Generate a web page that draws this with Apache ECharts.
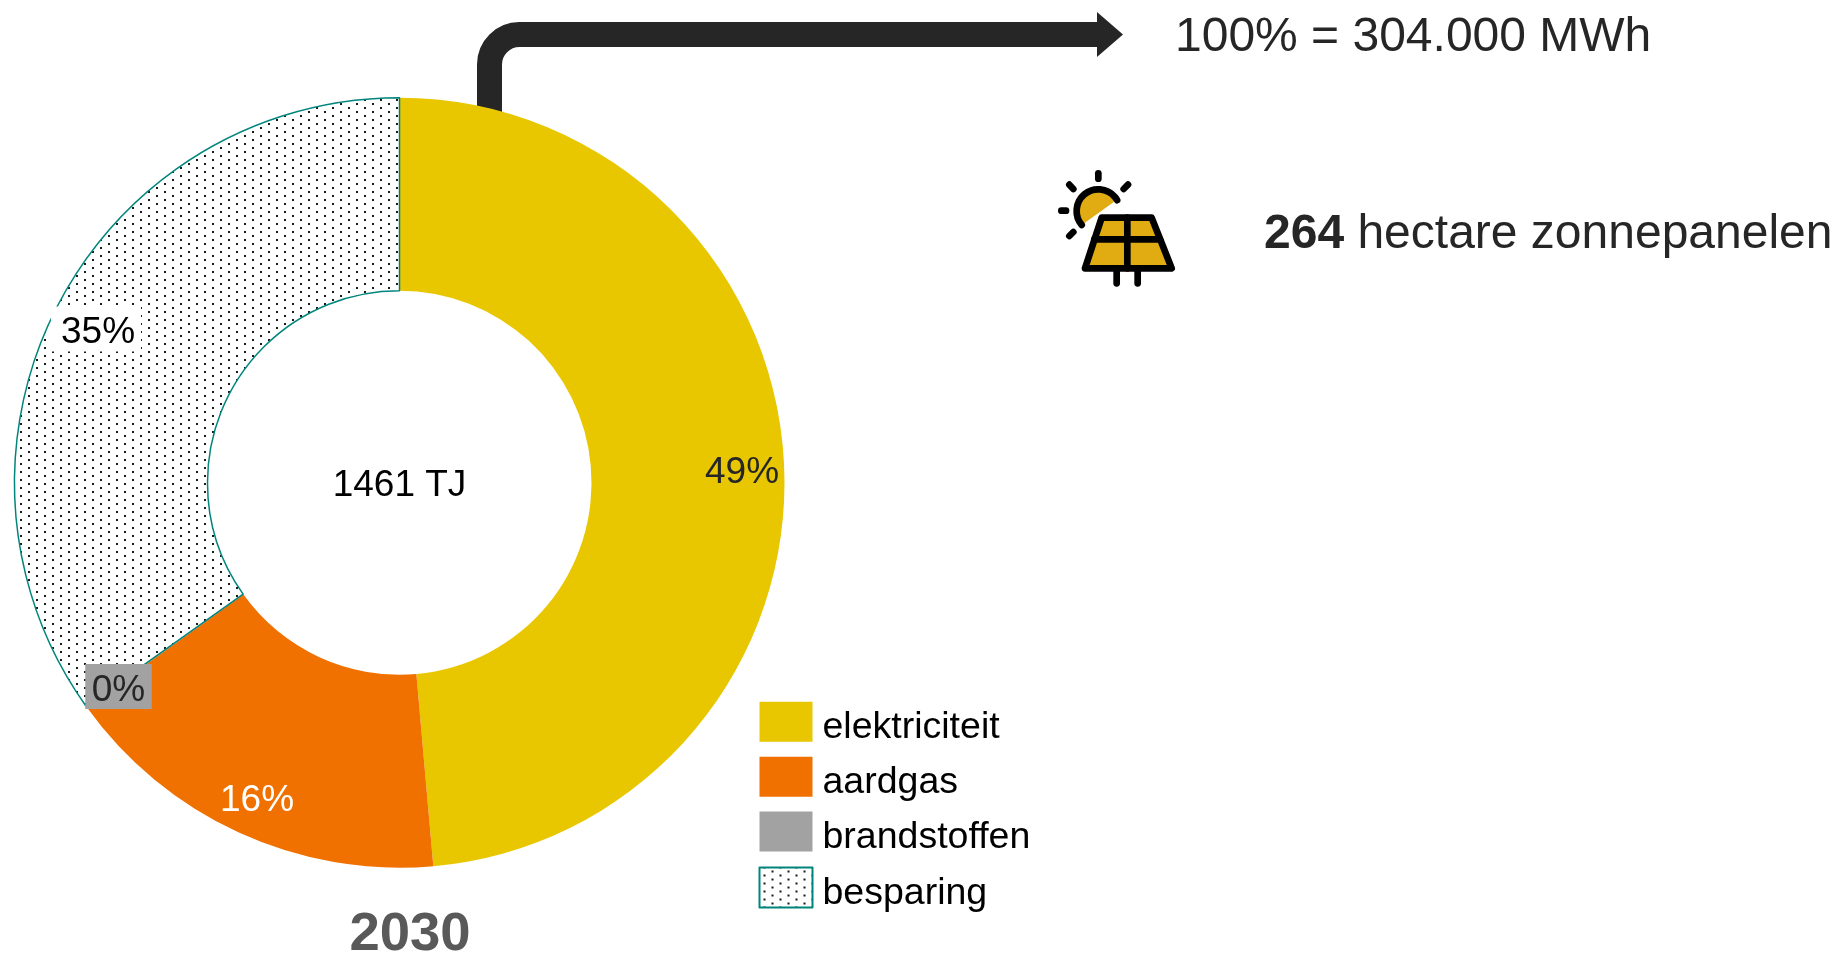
<!DOCTYPE html>
<html><head><meta charset="utf-8">
<style>html,body{margin:0;padding:0;background:#fff}#c{width:1837px;height:953px}</style>
<script src="https://cdn.jsdelivr.net/npm/echarts@6/dist/echarts.min.js"></script>
</head><body><div id="c"></div>
<script>
const categories = ['elektriciteit', 'aardgas', 'brandstoffen', 'besparing'];
const shares = [48.6, 16.5, 0.05, 34.85];
const shareLabels = ['49%', '16%', '0%', '35%'];
const sliceColors = ['#e9c700', '#f07000', '#a2a2a2', null];
const labelColors = ['#262626', '#ffffff', '#262626', '#000000'];
const labelBacks = ['transparent', 'transparent', '#a2a2a2', '#ffffff'];
const labelSpots = [[742, 472.5], [257, 800.5], [118.5, 686.5], [96, 329]];
const totalText = '1461 TJ';
const yearText = '2030';
const energyText = '100% = 304.000 MWh';
const panelBold = '264';
const panelText = ' hectare zonnepanelen';
const FONT = '"Liberation Sans", Arial, sans-serif';
const DARK = '#262626';

const dot = document.createElement('canvas');
dot.width = 16; dot.height = 8;
const g = dot.getContext('2d');
g.fillStyle = '#fff'; g.fillRect(0, 0, 16, 8);
g.fillStyle = '#1a1a1a';
g.fillRect(12, 3, 2, 2); g.fillRect(4, 7, 2, 1); g.fillRect(4, 0, 2, 1);

const labelPads = [[0, 2, 0, 2], [0, 2, 0, 2], [8, 6.5, 0, 6.5], [8, 6, 0, 10]];
const pieData = categories.map((name, i) => ({
  name, value: shares[i],
  itemStyle: sliceColors[i]
    ? { color: sliceColors[i], borderWidth: 0 }
    : { color: { image: dot, repeat: 'repeat' }, borderColor: '#00857c', borderWidth: 1.5 },
  label: {
    backgroundColor: labelBacks[i],
    rich: { t: { color: labelColors[i], fontFamily: FONT, fontSize: 37, padding: labelPads[i] } }
  }
}));

const ICON = { x: 1030, y: 150, k: 1 / 3 };
const ix = v => ICON.x + v * ICON.k;
const iy = v => ICON.y + v * ICON.k;
const iconStroke = { stroke: '#000', lineWidth: 6.7, lineCap: 'round', lineJoin: 'round', fill: 'none' };
const iconLine = (a, b, c, d) => ({ type: 'line', z: 5, shape: { x1: ix(a), y1: iy(b), x2: ix(c), y2: iy(d) }, style: iconStroke });
const poly = pts => pts.map(p => [ix(p[0]), iy(p[1])]);
const sunFill = [];
for (let t = 2.44; t <= 5.76; t += 0.1) sunFill.push([ix(205) + 21.7 * Math.cos(t), iy(183) + 21.7 * Math.sin(t)]);
const arrowStroke = { stroke: DARK, lineWidth: 25, fill: 'none' };

const chart = echarts.init(document.getElementById('c'));
chart.setOption({
  backgroundColor: '#fff',
  animation: false,
  textStyle: { fontFamily: FONT },
  legend: {
    orient: 'vertical', left: 758.5, top: 701.8, padding: 0,
    icon: 'rect', itemWidth: 53, itemHeight: 40, itemGap: 9.9,
    data: categories, selectedMode: false,
    formatter: '{t|{name}}',
    textStyle: { rich: { t: { fontFamily: FONT, fontSize: 37.5, color: '#000', padding: [12, 0, 0, 5] } } }
  },
  series: [{
    type: 'pie', center: [399.5, 482.7], radius: [192, 385],
    startAngle: 90, clockwise: true, avoidLabelOverlap: false, silent: true,
    data: pieData,
    labelLine: { show: false },
    label: {
      show: true, position: 'inside', fontFamily: FONT, fontSize: 37,
      formatter: p => '{t|' + shareLabels[p.dataIndex] + '}'
    },
    labelLayout: p => ({ x: labelSpots[p.dataIndex][0], y: labelSpots[p.dataIndex][1], align: 'center', verticalAlign: 'middle' })
  }],
  graphic: [
    { type: 'line', z: 0, shape: { x1: 489.5, y1: 63.5, x2: 489.5, y2: 130 }, style: arrowStroke },
    { type: 'arc', z: 0, shape: { cx: 519.5, cy: 64.5, r: 30, startAngle: Math.PI, endAngle: Math.PI * 1.5, clockwise: true }, style: arrowStroke },
    { type: 'line', z: 0, shape: { x1: 518.5, y1: 34.5, x2: 1098, y2: 34.5 }, style: arrowStroke },
    { type: 'polygon', z: 0, shape: { points: [[1097, 12], [1123, 34.5], [1097, 57]] }, style: { fill: DARK } },
    { type: 'text', z: 5, x: 1175, y: 38, style: { text: energyText, font: '48px ' + FONT, fill: DARK, verticalAlign: 'middle' } },
    { type: 'text', z: 5, x: 1264, y: 235, style: {
        text: '{b|' + panelBold + '}{n|' + panelText + '}', verticalAlign: 'middle',
        rich: {
          b: { fill: DARK, fontFamily: FONT, fontSize: 48, fontWeight: 'bold' },
          n: { fill: DARK, fontFamily: FONT, fontSize: 48 }
        } } },
    { type: 'text', z: 5, x: 399.5, y: 486, style: { text: totalText, font: '37px ' + FONT, fill: '#000', align: 'center', verticalAlign: 'middle' } },
    { type: 'text', z: 5, x: 410, y: 935, style: { text: yearText, font: 'bold 54.5px ' + FONT, fill: '#595959', align: 'center', verticalAlign: 'middle' } },
    { type: 'polygon', z: 4, shape: { points: sunFill }, style: { fill: '#e0ac12' } },
    { type: 'polygon', z: 4, shape: { points: poly([[215, 203], [365, 203], [425, 355], [165, 355]]) }, style: { fill: '#e0ac12' } },
    { type: 'arc', z: 5, shape: { cx: ix(205), cy: iy(183), r: 21.7, startAngle: 2.44, endAngle: 5.76, clockwise: true }, style: iconStroke },
    iconLine(205, 70, 205, 86), iconLine(118, 104, 130, 117), iconLine(294, 104, 281, 117),
    iconLine(94, 182, 108, 182), iconLine(118, 258, 130, 246),
    { type: 'polygon', z: 5, shape: { points: poly([[215, 203], [365, 203], [425, 355], [165, 355]]) }, style: iconStroke },
    iconLine(292, 203, 292, 355), iconLine(193, 268, 390, 268),
    iconLine(260, 355, 260, 400), iconLine(323, 355, 323, 400)
  ]
});
</script></body></html>
